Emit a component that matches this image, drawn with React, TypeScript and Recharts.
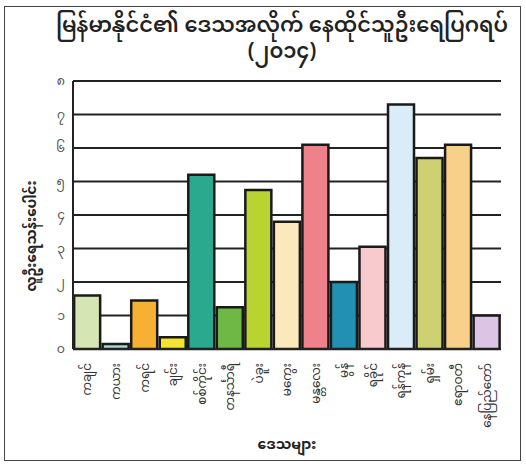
import { Bar, BarChart, CartesianGrid, Cell, XAxis, YAxis } from 'recharts'

const regions = [
  'ကချင်',
  'ကယား',
  'ကရင်',
  'ချင်း',
  'စစ်ကိုင်း',
  'တနင်္သာရီ',
  'ပဲခူး',
  'မကွေး',
  'မန္တလေး',
  'မွန်',
  'ရခိုင်',
  'ရန်ကုန်',
  'ရှမ်း',
  'ဧရာဝတီ',
  'နေပြည်တော်',
]
const population = [1.6, 0.15, 1.45, 0.35, 5.2, 1.25, 4.75, 3.8, 6.1, 2.0, 3.05, 7.3, 5.7, 6.1, 1.0]
const barColors = [
  '#d6e5b4', '#a9d3cf', '#f6b133', '#f1e234', '#2aa98f', '#6fb845', '#b9d431', '#fbe9bb',
  '#ee8189', '#2290b2', '#f8c9cd', '#d9ecf8', '#cdd171', '#f9d08a', '#dcc5e4',
]
const yTicks = [0, 1, 2, 3, 4, 5, 6, 7, 8]
const myNumerals = ['၀', '၁', '၂', '၃', '၄', '၅', '၆', '၇', '၈', '၉']

const font = '"Noto Sans Myanmar", Padauk, "Myanmar Text", "Noto Sans", sans-serif'

const data = regions.map((name, i) => ({ name, value: population[i] }))

function RegionTick({ x, y, payload }: any) {
  return (
    <g transform={`translate(${x},${y})`}>
      <text
        transform="rotate(-90)"
        x={-6}
        y={0}
        dy="0.35em"
        textAnchor="end"
        fontSize={12}
        fill="#333"
        fontFamily={font}
      >
        {payload.value}
      </text>
    </g>
  )
}

function YTitle() {
  return (
    <text
      transform="translate(31,236) rotate(-90)"
      textAnchor="middle"
      dy="0.35em"
      fontSize={13.5}
      fontWeight={700}
      fill="#222"
      fontFamily={font}
    >
      လူဦးရေသန်းပေါင်း
    </text>
  )
}

const titleStyle = {
  position: 'absolute' as const,
  left: 50,
  width: 464,
  textAlign: 'center' as const,
  fontSize: 21,
  fontWeight: 600,
  lineHeight: '24px',
  color: '#222',
}

export default function App() {
  return (
    <div
      style={{
        position: 'absolute',
        left: 0,
        top: 0,
        width: 526,
        height: 466,
        background: '#fff',
        fontFamily: font,
      }}
    >
      <div
        style={{
          position: 'absolute',
          left: 4,
          top: 6,
          width: 515,
          height: 453,
          border: '1.5px solid #444',
        }}
      />
      <div style={{ ...titleStyle, top: 15 }}>မြန်မာနိုင်ငံ၏ ဒေသအလိုက် နေထိုင်သူဦးရေပြဂရပ်</div>
      <div style={{ ...titleStyle, top: 41 }}>(၂၀၁၄)</div>
      <BarChart
        width={526}
        height={466}
        data={data}
        margin={{ top: 81, right: 25, bottom: 0, left: 0 }}
        barCategoryGap="4%"
      >
        <CartesianGrid vertical={false} stroke="#222" strokeWidth={2} />
        <XAxis
          dataKey="name"
          interval={0}
          tickLine={false}
          axisLine={{ stroke: '#222', strokeWidth: 2 }}
          tick={<RegionTick />}
          height={117}
          label={{
            value: 'ဒေသများ',
            position: 'insideBottom',
            offset: 17,
            fontSize: 14,
            fontWeight: 700,
            fill: '#222',
            fontFamily: font,
          }}
        />
        <YAxis
          domain={[0, 8]}
          ticks={yTicks}
          interval={0}
          width={73}
          tickLine={false}
          axisLine={{ stroke: '#222', strokeWidth: 2 }}
          tickFormatter={(v: number) => myNumerals[v]}
          tick={{ fontSize: 12.5, fill: '#555', fontFamily: font }}
          label={<YTitle />}
        />
        <YAxis
          yAxisId="right"
          orientation="right"
          width={0}
          tick={false}
          tickLine={false}
          axisLine={{ stroke: '#222', strokeWidth: 2 }}
        />
        <Bar dataKey="value" stroke="#1a1a1a" strokeWidth={2.5} isAnimationActive={false}>
          {data.map((_, i) => (
            <Cell key={i} fill={barColors[i]} />
          ))}
        </Bar>
      </BarChart>
    </div>
  )
}
